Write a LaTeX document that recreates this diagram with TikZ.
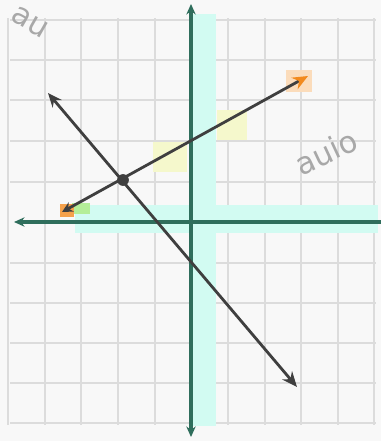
\documentclass[tikz,border=0pt]{standalone}
\usepackage{fontspec}
\setmainfont{DejaVu Sans}
\usetikzlibrary{arrows.meta}
\definecolor{bg}{HTML}{F8F8F8}
\definecolor{gridc}{HTML}{DCDCDC}
\definecolor{axisc}{HTML}{2F6E5C}
\definecolor{bandc}{HTML}{D2FBF2}
\definecolor{linec}{HTML}{3F3F3F}
\definecolor{orangec}{HTML}{F28A1E}
\definecolor{yellowc}{HTML}{F5F8CC}
\definecolor{greenc}{HTML}{B4EE98}
\definecolor{wmark}{HTML}{A8A8A8}
\tikzset{
  gridline/.style={draw=gridc, line width=2.2pt},
  axisline/.style={draw=axisc, line width=2.6pt},
  graphline/.style={draw=linec, line width=2.4pt},
  wtext/.style={text=wmark, font=\fontsize{26}{26}\selectfont}
}
\begin{document}
\begin{tikzpicture}[x=0.03cm,y=-0.03cm]
\useasboundingbox (0,0) rectangle (381,441);
\fill[bg] (0,0) rectangle (381,441);
% grid
\foreach \x in {8,45,81,118,155,228,265,301,338,374}
  \draw[gridline] (\x,18) -- (\x,425);
\foreach \y in {20,60,100,141,182,263,303,343,383,423}
  \draw[gridline] (10,\y) -- (376,\y);
% highlight bands
\fill[bandc] (193,14) rectangle (216,426);
\fill[bandc] (75,205) rectangle (378,233);
\fill[yellowc] (153,142) rectangle (187,172);
\fill[yellowc] (217,110) rectangle (247,140);
\fill[greenc] (72,203) rectangle (90,214);
\fill[orangec!80] (60,204) rectangle (74,217);
\fill[orangec!30] (286,70) rectangle (312,92);
% watermark
\node[wtext, rotate=25] (wm1) at (326,152) {auio};
\node[wtext, rotate=-30] (wm2) at (30,22) {au};
% axes
\coordinate (yt) at (191,4);
\coordinate (yb) at (191,437);
\coordinate (xl) at (14,222);
\coordinate (xr) at (381,222);
\draw[axisline, {Stealth[length=9pt,width=8pt]}-{Stealth[length=9pt,width=8pt]}] (yt) -- (yb);
\draw[axisline, {Stealth[length=9pt,width=8pt]}-] (xl) -- (xr);
% lines
\coordinate (a1) at (62,212);
\coordinate (a2) at (308,76);
\coordinate (b1) at (48,93);
\coordinate (b2) at (297,387);
\draw[graphline, {Stealth[length=12pt,width=10pt]}-{Stealth[length=13pt,width=11pt]}] (b1) -- (b2);
\draw[graphline, {Stealth[length=9pt,width=9pt]}-{Stealth[length=13pt,width=11pt,color=orangec,fill=orangec]}] (a1) -- (a2);
\node[circle, fill=linec, inner sep=0pt, minimum size=10pt] (p) at (123,180) {};
\end{tikzpicture}
\end{document}
